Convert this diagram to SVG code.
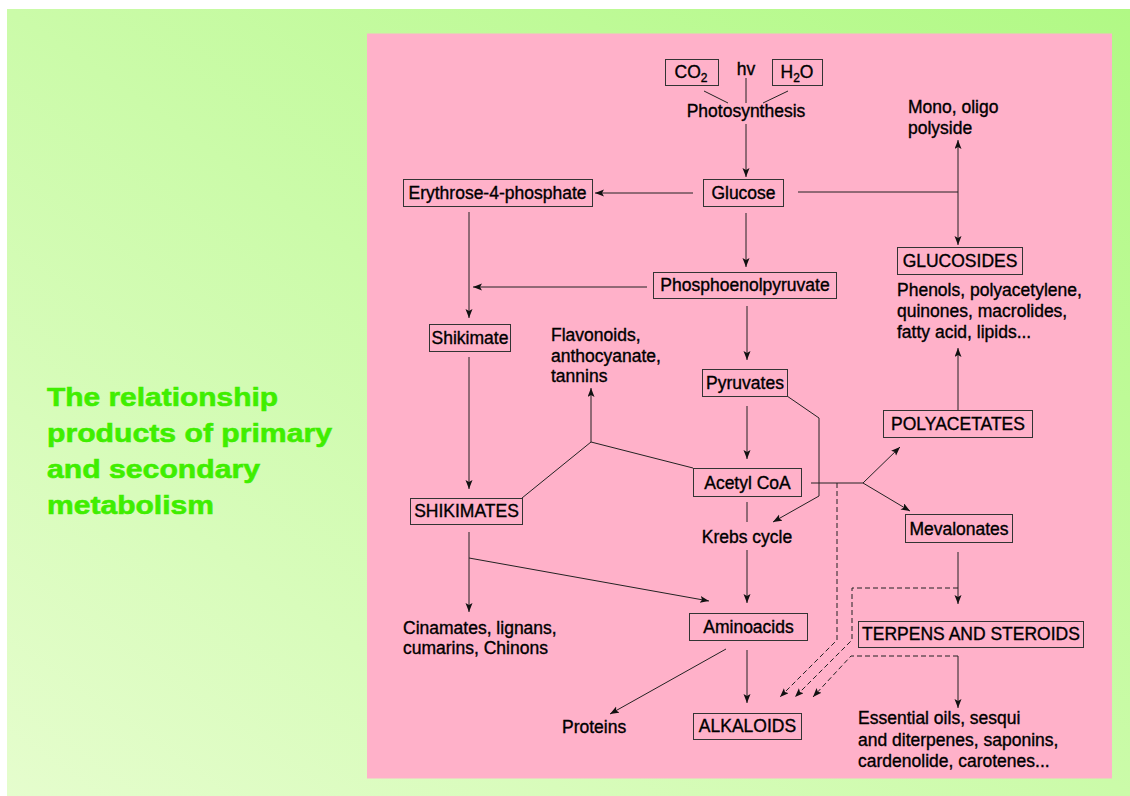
<svg xmlns="http://www.w3.org/2000/svg" width="1130" height="796" viewBox="0 0 1130 796">
<defs>
<linearGradient id="bg" x1="0" y1="1" x2="1" y2="0">
<stop offset="0" stop-color="#e5fdcd"/>
<stop offset="1" stop-color="#b1f985"/>
</linearGradient>
<marker id="ah" markerUnits="userSpaceOnUse" markerWidth="10" markerHeight="8" refX="9" refY="3.5" orient="auto">
<path d="M0,0 L9,3.5 L0,7 L2,3.5 z" fill="#111"/>
</marker>
<style>
.box{fill:none;stroke:#333;stroke-width:1}
.t{font-family:"Liberation Sans",Arial,sans-serif;font-size:17.5px;fill:#000;stroke:#000;stroke-width:0.35}
.c{text-anchor:middle}
.ln{fill:none;stroke:#222;stroke-width:1}
.ar{marker-end:url(#ah)}
.d{stroke-dasharray:5,3}
.title{font-family:"Liberation Sans",Arial,sans-serif;font-weight:bold;font-size:26px;fill:#3fee00;stroke:#3fee00;stroke-width:0.6}
</style>
</defs>
<rect x="0" y="0" width="1130" height="796" fill="#ffffff"/>
<rect x="7" y="9" width="1123" height="787" fill="url(#bg)"/>
<rect x="367" y="33.5" width="745" height="745" fill="#ffb1c9"/>

<g id="title">
<text class="title" x="47" y="406" textLength="231" lengthAdjust="spacingAndGlyphs">The relationship</text>
<text class="title" x="47" y="442" textLength="285" lengthAdjust="spacingAndGlyphs">products of primary</text>
<text class="title" x="47" y="478" textLength="213" lengthAdjust="spacingAndGlyphs">and secondary</text>
<text class="title" x="47" y="514" textLength="167" lengthAdjust="spacingAndGlyphs">metabolism</text>
</g>

<g id="connectors">
<path class="ln" d="M746,78 V103"/>
<path class="ln" d="M704,91 L728,103"/>
<path class="ln" d="M788,91 L763,103"/>
<path class="ln ar" d="M746,124 V177"/>
<path class="ln ar" d="M693,193 H595"/>
<path class="ln" d="M798,192 H958"/>
<path class="ln ar" d="M958,192 V140"/>
<path class="ln ar" d="M958,192 V245"/>
<path class="ln ar" d="M746,213 V267"/>
<path class="ln ar" d="M647,287 H473"/>
<path class="ln ar" d="M469,212 V318"/>
<path class="ln ar" d="M469,357 V489"/>
<path class="ln" d="M522,498 L591,442 L693,468"/>
<path class="ln ar" d="M591,442 V388"/>
<path class="ln ar" d="M747,306 V360"/>
<path class="ln ar" d="M747,406 V459"/>
<path class="ln ar" d="M787,396 L819,418 V496 L773,522"/>
<path class="ln" d="M811,483 H863"/>
<path class="ln ar" d="M863,483 L900,447"/>
<path class="ln ar" d="M863,483 L910,511"/>
<path class="ln d ar" d="M837,483 V640 L780,697"/>
<path class="ln" d="M747,502 V522"/>
<path class="ln ar" d="M747,550 V603"/>
<path class="ln ar" d="M469,532 V612"/>
<path class="ln ar" d="M469,558 L709,601"/>
<path class="ln ar" d="M958,552 V604"/>
<path class="ln d ar" d="M958,588 H852 V640 L795,697"/>
<path class="ln ar" d="M958,656 V708"/>
<path class="ln d ar" d="M958,656 H851 L813,697"/>
<path class="ln ar" d="M747,650 V703"/>
<path class="ln ar" d="M726,649 L610,714"/>
<path class="ln ar" d="M958,410 V348"/>
</g>

<g id="co2"><rect class="box" x="665.5" y="59.5" width="53" height="26"/><text class="t c" x="691" y="78">CO<tspan font-size="12" dy="4">2</tspan></text></g>
<g id="hv"><text class="t c" x="746" y="75">hv</text></g>
<g id="h2o"><rect class="box" x="772.5" y="59.5" width="50" height="26"/><text class="t c" x="797" y="78">H<tspan font-size="12" dy="4">2</tspan><tspan dy="-4">O</tspan></text></g>
<g id="photosynthesis"><text class="t c" x="746" y="117">Photosynthesis</text></g>
<g id="mono"><text class="t" x="908" y="113">Mono, oligo</text><text class="t" x="908" y="134">polyside</text></g>
<g id="glucose"><rect class="box" x="703.5" y="179.5" width="80" height="27"/><text class="t c" x="743.5" y="199">Glucose</text></g>
<g id="erythrose"><rect class="box" x="403.5" y="179.5" width="189" height="27"/><text class="t c" x="497.5" y="199">Erythrose-4-phosphate</text></g>
<g id="glucosides"><rect class="box" x="897.5" y="247.5" width="125" height="27"/><text class="t c" x="960" y="267">GLUCOSIDES</text></g>
<g id="phenols"><text class="t" x="897" y="296">Phenols, polyacetylene,</text><text class="t" x="897" y="317">quinones, macrolides,</text><text class="t" x="897" y="338">fatty acid, lipids...</text></g>
<g id="pep"><rect class="box" x="653.5" y="272.5" width="183" height="26"/><text class="t c" x="745" y="291">Phosphoenolpyruvate</text></g>
<g id="shikimate"><rect class="box" x="429.5" y="324.5" width="81" height="27"/><text class="t c" x="470" y="344">Shikimate</text></g>
<g id="flavonoids"><text class="t" x="551" y="341">Flavonoids,</text><text class="t" x="551" y="362">anthocyanate,</text><text class="t" x="551" y="382">tannins</text></g>
<g id="pyruvates"><rect class="box" x="702.5" y="369.5" width="85" height="27"/><text class="t c" x="745" y="389">Pyruvates</text></g>
<g id="polyacetates"><rect class="box" x="883.5" y="410.5" width="149" height="27"/><text class="t c" x="958" y="430">POLYACETATES</text></g>
<g id="acetylcoa"><rect class="box" x="693.5" y="468.5" width="108" height="28"/><text class="t c" x="747.5" y="489">Acetyl CoA</text></g>
<g id="shikimates"><rect class="box" x="410.5" y="498.5" width="112" height="26"/><text class="t c" x="466.5" y="517">SHIKIMATES</text></g>
<g id="mevalonates"><rect class="box" x="905.5" y="514.5" width="107" height="28"/><text class="t c" x="959" y="535">Mevalonates</text></g>
<g id="krebs"><text class="t c" x="747" y="543">Krebs cycle</text></g>
<g id="aminoacids"><rect class="box" x="689.5" y="613.5" width="118" height="27"/><text class="t c" x="748.5" y="633">Aminoacids</text></g>
<g id="terpens"><rect class="box" x="858.5" y="621.5" width="225" height="26"/><text class="t c" x="971" y="640">TERPENS AND STEROIDS</text></g>
<g id="cinamates"><text class="t" x="403" y="634">Cinamates, lignans,</text><text class="t" x="403" y="654">cumarins, Chinons</text></g>
<g id="proteins"><text class="t" x="562" y="733">Proteins</text></g>
<g id="alkaloids"><rect class="box" x="693.5" y="713.5" width="108" height="26"/><text class="t c" x="747.5" y="732">ALKALOIDS</text></g>
<g id="essential"><text class="t" x="858" y="724">Essential oils, sesqui</text><text class="t" x="858" y="746">and diterpenes, saponins,</text><text class="t" x="858" y="767">cardenolide, carotenes...</text></g>
</svg>
